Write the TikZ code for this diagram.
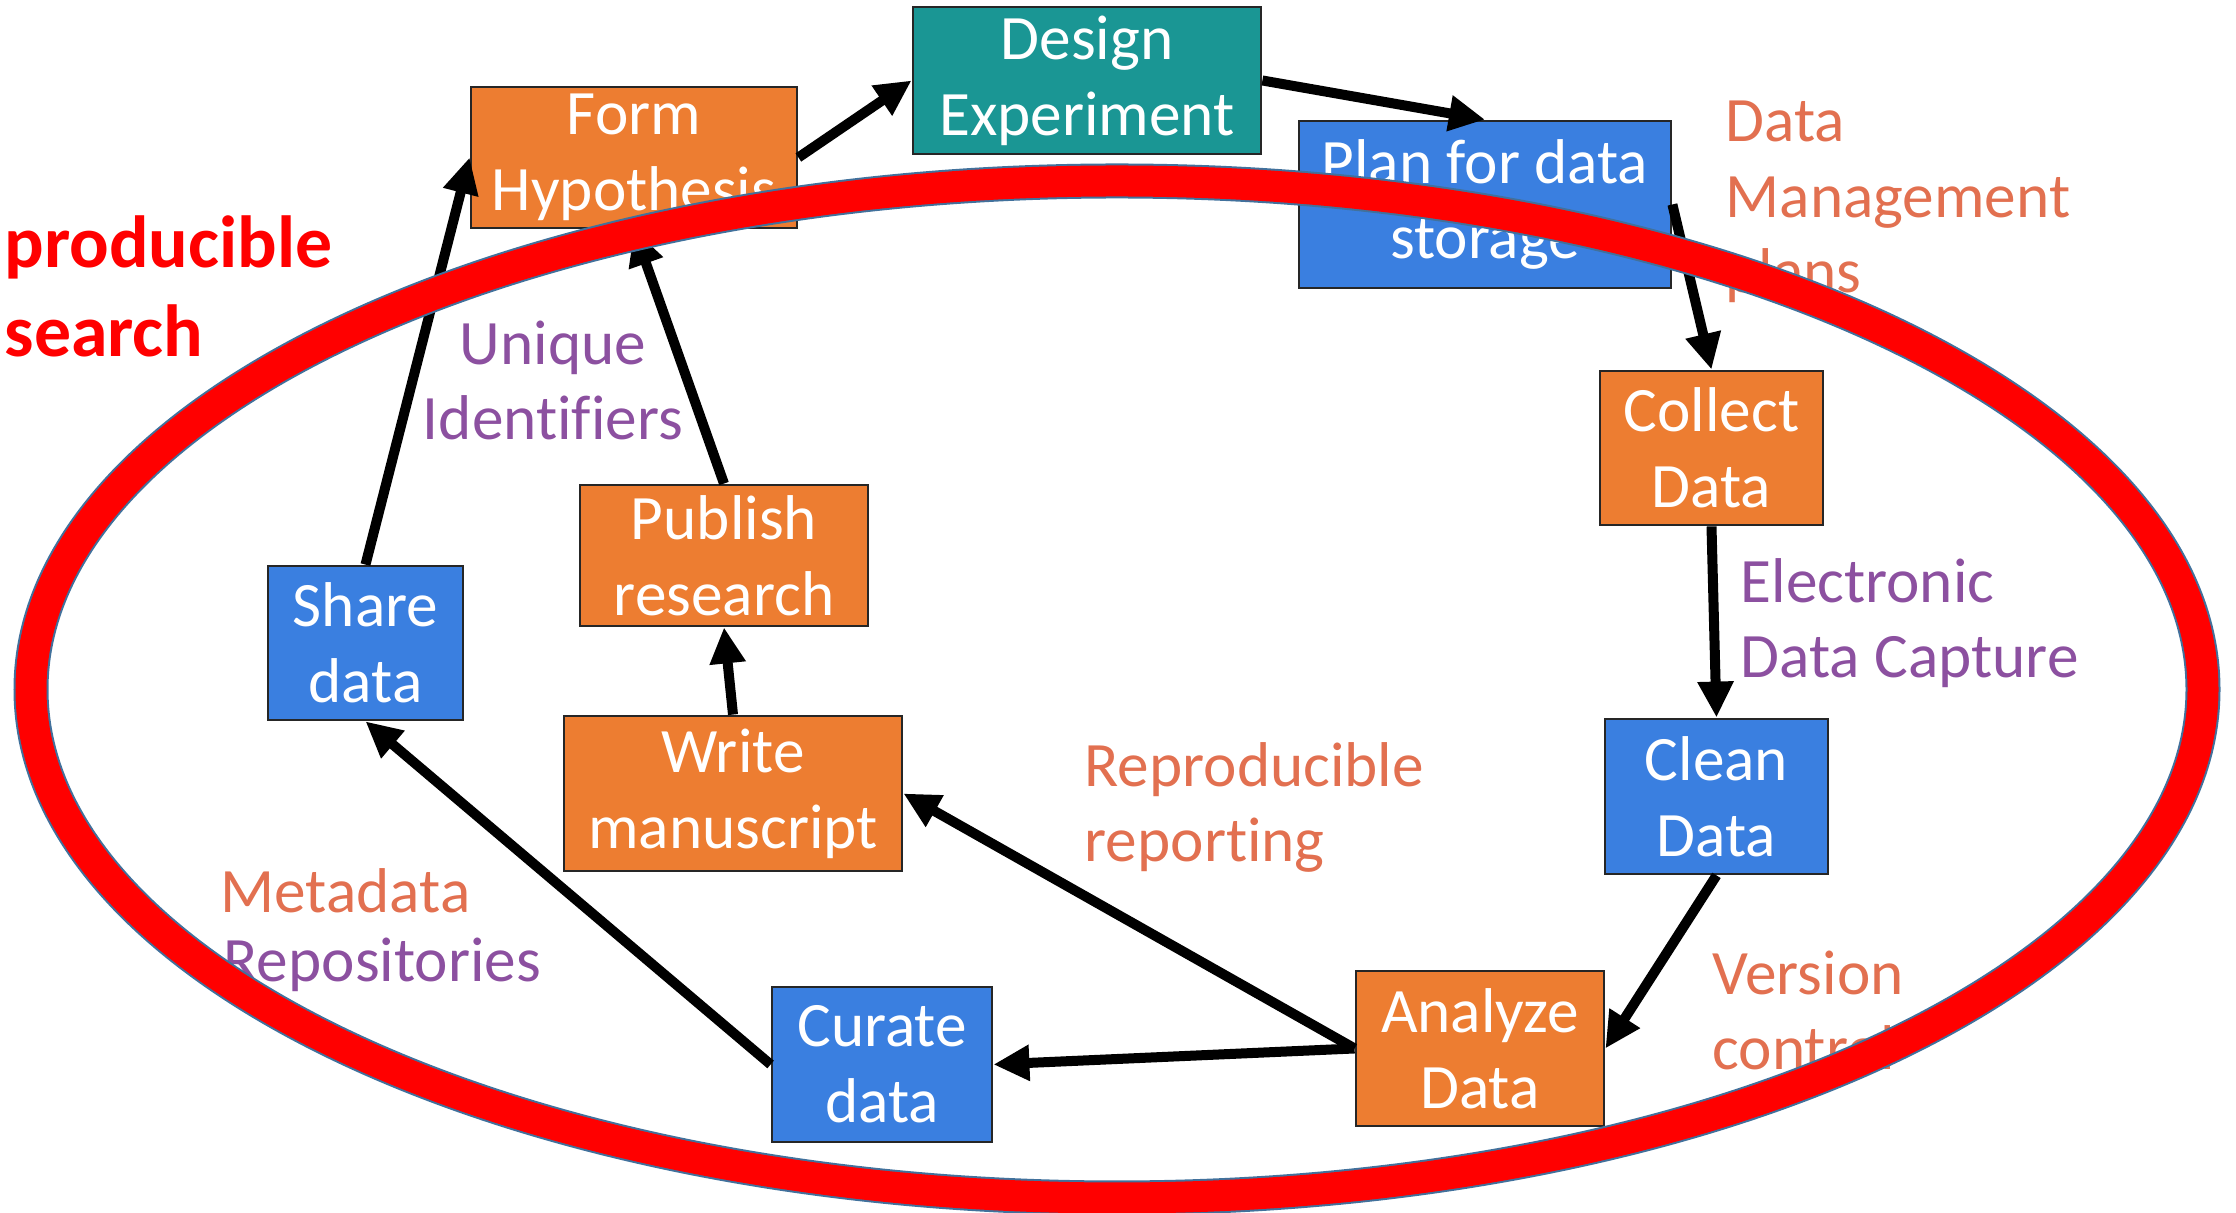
\documentclass[tikz,border=0pt]{standalone}
\usepackage{fontspec}
\setmainfont{Carlito}[Ligatures=NoCommon]
\usepackage{xcolor}
\usetikzlibrary{arrows.meta}

\definecolor{boxorange}{RGB}{237,125,49}
\definecolor{boxblue}{RGB}{58,127,224}
\definecolor{boxteal}{RGB}{26,150,148}
\definecolor{notecoral}{RGB}{226,112,80}
\definecolor{notepurple}{RGB}{140,80,160}
\definecolor{ringedge}{RGB}{65,113,156}

\begin{document}
\begin{tikzpicture}[
  stage/.style={draw=black!85, line width=0.8pt, text=white, align=center, inner sep=0pt,
    font=\fontsize{18}{21.6}\selectfont},
  flow/.style={-{Triangle[length=0.36cm,width=0.34cm]}, line width=0.1cm},
  note/.style={anchor=base west, align=left, inner sep=0pt, font=\fontsize{18}{21.6}\selectfont}
]
\useasboundingbox (0,0) rectangle (22.36,12.13);

% the stages of the cycle
\node (design) at (10.87,11.325) [stage, fill=boxteal, minimum width=3.48cm, minimum height=1.47cm] {Design\\Experiment};
\node (form) at (6.34,10.555) [stage, fill=boxorange, minimum width=3.26cm, minimum height=1.41cm] {Form\\Hypothesis};
\node (plan) at (14.85,10.085) [stage, fill=boxblue, minimum width=3.72cm, minimum height=1.67cm] {Plan for data\\storage};
\node (collect) at (17.115,7.65) [stage, fill=boxorange, minimum width=2.23cm, minimum height=1.54cm] {Collect\\Data};
\node (clean) at (17.165,4.165) [stage, fill=boxblue, minimum width=2.23cm, minimum height=1.55cm] {Clean\\Data};
\node (analyze) at (14.80,1.645) [stage, fill=boxorange, minimum width=2.48cm, minimum height=1.55cm] {Analyze\\Data};
\node (curate) at (8.82,1.485) [stage, fill=boxblue, minimum width=2.20cm, minimum height=1.55cm] {Curate\\data};
\node (write) at (7.33,4.195) [stage, fill=boxorange, minimum width=3.38cm, minimum height=1.55cm] {Write\\manuscript};
\node (publish) at (7.24,6.575) [stage, fill=boxorange, minimum width=2.88cm, minimum height=1.41cm] {Publish\\research};
\node (share) at (3.655,5.70) [stage, fill=boxblue, minimum width=1.95cm, minimum height=1.54cm] {Share\\data};

% arrows
\draw[flow] (form.east) -- (design.west);
\draw[flow] (design.east) -- (plan.north);
\draw[flow] (plan.east) -- (collect.north);
\draw[flow] (collect.south) -- (clean.north);
\draw[flow] (clean.south) -- (analyze.east);
\draw[flow] (analyze.west) -- (curate.east);
\draw[flow] (analyze.west) -- (write.east);
\draw[flow] (curate.west) -- (share.south);
\draw[flow] (write.north) -- (publish.south);
\draw[flow] (publish.north) -- (form.south);
\draw[flow] (share.north) -- (form.west);

% side notes (placed by the baseline of their last line)
\node (dmp) at (17.25,9.20) [note, text=notecoral] {Data\\Management\\plans};
\node (edc) at (17.40,5.35) [note, text=notepurple] {Electronic\\Data Capture};
\node (vcs) at (17.12,1.43) [note, text=notecoral] {Version\\control};
\node (repro) at (10.84,3.51) [note, text=notecoral] {Reproducible\\reporting};
\node (meta) at (2.20,3.00) [note, text=notecoral] {Metadata};
\node (repo) at (2.23,2.31) [note, text=notepurple] {Repositories};
\node (uid) at (5.53,7.73) [note, anchor=base, align=center, text=notepurple] {Unique\\Identifiers};
\node (title) at (0.04,8.56) [note, text=red, font=\fontsize{21}{25.6}\selectfont\bfseries] {producible\\search};

% ring on top
\draw[ringedge, line width=0.35cm] (11.17,5.235) ellipse [x radius=10.86, y radius=5.085];
\draw[red, line width=0.31cm] (11.17,5.235) ellipse [x radius=10.86, y radius=5.085];
\end{tikzpicture}
\end{document}
